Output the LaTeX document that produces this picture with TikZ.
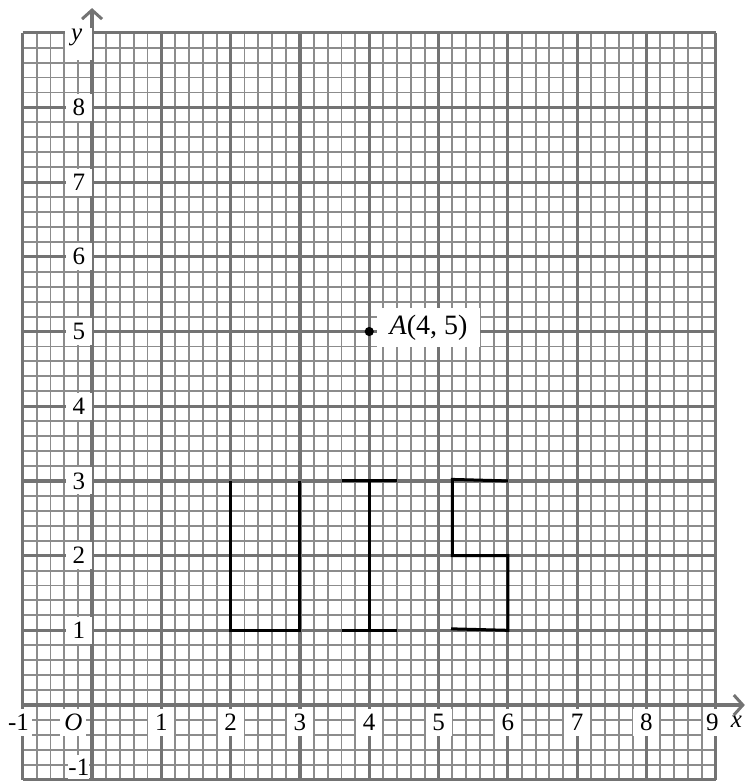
\documentclass[tikz,border=0pt]{standalone}
\usepackage{fontspec}
\setmainfont{Liberation Serif}
\usetikzlibrary{arrows.meta}
\begin{document}
\begin{tikzpicture}[x=69.3pt,y=74.7pt,
  fine/.style={draw=black!45, line width=1.9pt},
  major/.style={draw=black!55, line width=3.2pt},
  axisline/.style={draw=black!55, line width=3.2pt, -{Straight Barb[length=9pt,width=20pt,line width=3pt]}},
  ticklab/.style={fill=white, inner sep=0pt, minimum width=26pt, minimum height=27pt, font=\fontsize{25}{25}\selectfont},
  letterline/.style={draw=black, line width=3pt, line join=miter}
]
\useasboundingbox (-1.328,-1.017) rectangle (9.437,9.438);
% fine grid
\foreach \i in {0,...,50} {
  \draw[fine] ({-1+\i*0.2},-1) -- ({-1+\i*0.2},9);
  \draw[fine] (-1,{-1+\i*0.2}) -- (9,{-1+\i*0.2});
}
% major grid
\foreach \k in {-1,...,9} {
  \draw[major] (\k,-1) -- (\k,9);
  \draw[major] (-1,\k) -- (9,\k);
}
% axes
\coordinate (xs) at (-1,0);
\coordinate (xe) at (9.42,0);
\coordinate (ys) at (0,-1);
\coordinate (ye) at (0,9.33);
\draw[axisline] (xs) -- (xe);
\draw[axisline] (ys) -- (ye);
% x tick labels
\foreach \k in {1,...,8} {
  \node[ticklab] (xl\k) at (\k,-0.23) {\k};
}
\node[ticklab, minimum width=19pt] (xl9) at (8.95,-0.23) {9};
\node[ticklab] (xlm) at (-1.06,-0.23) {-1};
\node[ticklab] (xlo) at (-0.27,-0.23) {\textit{O}};
\node[font=\fontsize{25}{25}\selectfont\itshape] (xlab) at (9.3,-0.22) {x};
% y tick labels
\foreach \k in {1,...,8} {
  \node[ticklab] (yl\k) at (-0.19,\k) {\k};
}
\node[ticklab, minimum width=20pt, minimum height=24pt] (ylm) at (-0.19,-0.83) {-1};
\node[fill=white, inner sep=0pt, minimum width=27pt, minimum height=32pt] (ybox) at (-0.19,8.85) {};
\node[font=\fontsize{25}{25}\selectfont\itshape] (ylab) at (-0.22,8.93) {y};
% point A
\coordinate (A) at (4,5);
\fill (A) circle (4.6pt);
\node[fill=white, inner sep=0pt, minimum width=103pt, minimum height=39pt, font=\fontsize{28}{28}\selectfont] (Alab) at (4.856,5.05) {\textit{A}(4, 5)};
% U
\coordinate (u1) at (2,3); \coordinate (u2) at (2,1);
\coordinate (u3) at (3,1); \coordinate (u4) at (3,3);
\draw[letterline] (u1) -- (u2) -- (u3) -- (u4);
% I
\coordinate (i1) at (3.6,3); \coordinate (i2) at (4.4,3);
\coordinate (i3) at (4,3); \coordinate (i4) at (4,1);
\coordinate (i5) at (3.6,1); \coordinate (i6) at (4.4,1);
\draw[letterline] (i1) -- (i2);
\draw[letterline] (i3) -- (i4);
\draw[letterline] (i5) -- (i6);
% S
\coordinate (s1) at (6,3); \coordinate (s2) at (5.2,3.02);
\coordinate (s3) at (5.2,2); \coordinate (s4) at (6,2);
\coordinate (s5) at (6,1); \coordinate (s6) at (5.18,1.02);
\draw[letterline] (s1) -- (s2) -- (s3) -- (s4) -- (s5) -- (s6);
\end{tikzpicture}
\end{document}
